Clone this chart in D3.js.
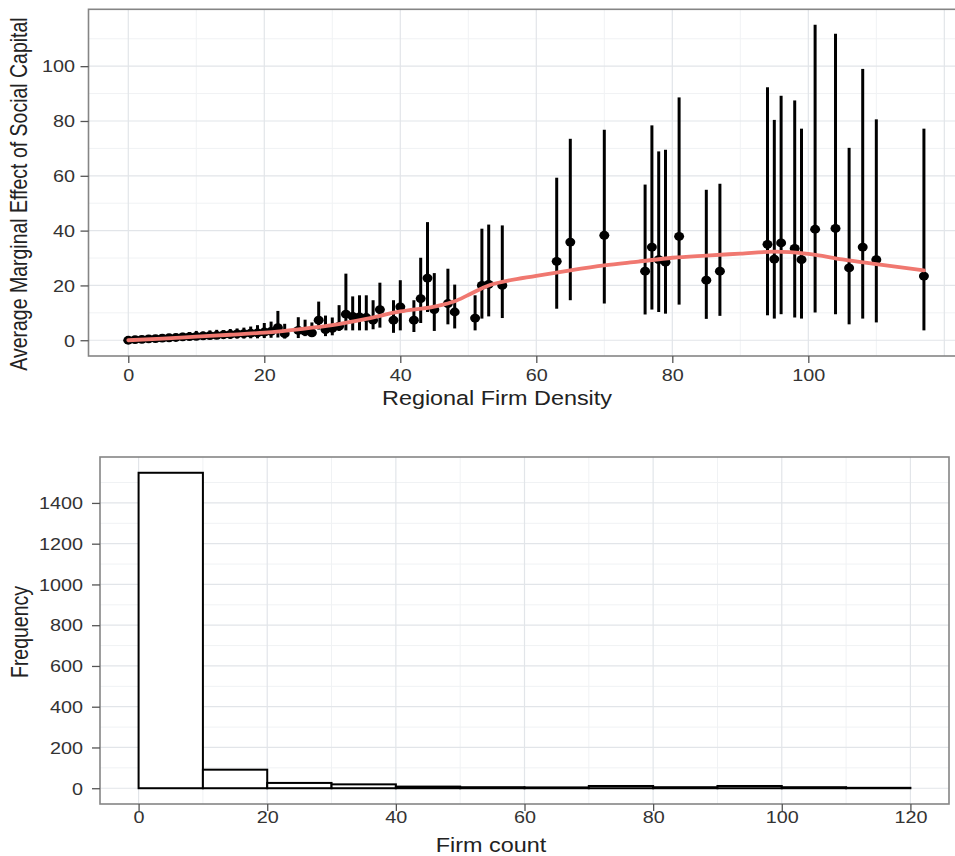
<!DOCTYPE html>
<html>
<head>
<meta charset="utf-8">
<script src="https://cdn.jsdelivr.net/npm/d3@7"></script>
<style>
  html, body { margin: 0; padding: 0; background: #fff; }
  svg { display: block; font-family: "Liberation Sans", Arial, sans-serif; }
  .grid-major { stroke: #e2e5e9; stroke-width: 1.2; }
  .grid-minor { stroke: #f0f2f4; stroke-width: 1; }
  .frame { fill: none; stroke: #858585; stroke-width: 1.6; }
  .axis line { stroke: #555; stroke-width: 1.3; }
  .axis text { fill: #333; font-size: 16.5px; }
  .title { fill: #222; font-size: 19.5px; }
</style>
</head>
<body>
<svg id="chart" width="955" height="856"></svg>
<script>
// top panel: average marginal effect by regional firm density
const density = [0, 1, 2, 3, 4, 5, 6, 7, 8, 9, 10, 11, 12, 13, 14, 15, 16, 17, 18,
  19, 20, 21, 22, 23, 25, 26, 27, 28, 29, 30, 31, 32, 33, 34, 35, 36, 37, 39, 40,
  42, 43, 44, 45, 47, 48, 51, 52, 53, 55, 63, 65, 70, 76, 77, 78, 79, 81, 85, 87,
  94, 95, 96, 98, 99, 101, 104, 106, 108, 110, 117];
const effect = [0, 0.2, 0.3, 0.5, 0.6, 0.8, 0.9, 1.0, 1.2, 1.3, 1.4, 1.6, 1.7, 1.8, 2.0, 2.1, 2.3, 2.4, 2.6,
  2.7, 3.0, 3.2, 4.6, 2.4, 3.6, 3.2, 2.7, 7.3, 3.9, 4.3, 5.1, 9.5, 8.7, 8.5, 8.3, 7.3, 11.2, 7.3, 12.2,
  7.3, 15.2, 22.7, 11.2, 13.4, 10.3, 8.1, 20.0, 20.4, 20.0, 28.8, 35.8, 38.3, 25.2, 34.0, 29.4, 28.5, 37.9, 21.9, 25.2,
  35.0, 29.6, 35.5, 33.5, 29.4, 40.5, 40.8, 26.4, 34.0, 29.4, 23.4];
const effectLo = [0, 0, 0, 0.1, 0.1, 0.2, 0.2, 0.3, 0.3, 0.3, 0.4, 0.4, 0.5, 0.5, 0.5, 0.6, 0.6, 0.6, 0.7,
  0.7, 0.8, 0.9, 1.0, 0.6, 0.8, 1.5, 1.2, 3.9, 1.5, 1.8, 3.4, 3.6, 3.6, 3.6, 3.6, 4.0, 4.6, 2.7, 3.6,
  3.0, 6.3, 10.3, 3.4, 5.8, 4.3, 3.6, 7.9, 8.7, 8.1, 11.5, 14.6, 13.4, 9.4, 11.2, 10.3, 9.7, 13.0, 7.8, 8.9,
  9.1, 7.9, 9.5, 8.3, 7.9, 10.1, 9.5, 5.8, 7.9, 6.5, 3.6];
const effectHi = [0.1, 0.5, 0.8, 1.1, 1.4, 1.7, 2.0, 2.3, 2.7, 3.0, 3.4, 3.2, 3.6, 3.8, 3.7, 4.1, 4.3, 4.6, 5.0,
  5.5, 6.3, 6.8, 10.7, 6.0, 8.4, 7.5, 6.5, 14.1, 9.0, 8.3, 12.8, 24.3, 16.0, 16.4, 16.4, 14.6, 21.0, 14.6, 21.9,
  14.6, 30.1, 43.1, 24.5, 26.1, 20.3, 16.4, 40.7, 42.2, 41.9, 59.3, 73.5, 76.8, 56.8, 78.4, 68.9, 69.5, 88.6, 54.9, 57.1,
  92.3, 80.4, 89.2, 87.5, 77.2, 115.1, 111.8, 70.2, 99.0, 80.6, 77.2];

// smoothed fit (red line)
const smoothX = [0, 5, 10, 15, 20, 25, 30, 35, 40, 45, 48, 50, 53, 55, 60, 65, 70, 75, 80, 85, 90, 95, 100, 105, 110, 117];
const smoothY = [0, 0.6, 1.3, 2.0, 2.8, 4.0, 5.5, 7.8, 10.5, 12.3, 14.2, 16.5, 20.0, 21.3, 23.5, 25.5, 27.3, 28.7, 30.1, 30.9, 31.6, 32.3, 31.5, 29.5, 27.8, 25.5];

// bottom panel: histogram of firm count
const binStart = [0, 10, 20, 30, 40, 50, 60, 70, 80, 90, 100, 110];
const binCount = [1548, 91, 26, 19, 8, 5, 4, 11, 5, 11, 5, 2];

const topXTicks = [0, 20, 40, 60, 80, 100];
const topYTicks = [0, 20, 40, 60, 80, 100];
const botXTicks = [0, 20, 40, 60, 80, 100, 120];
const botYTicks = [0, 200, 400, 600, 800, 1000, 1200, 1400];

const svg = d3.select('#chart');
const SX = 1.2; // the figure is a bit wider than tall, text included

function grid(g, x, y, xMajor, xMinor, yMajor, yMinor, x0, x1, y0, y1) {
  g.selectAll('.vmin').data(xMinor).join('line').attr('class', 'grid-minor')
    .attr('x1', d => x(d)).attr('x2', d => x(d)).attr('y1', y0).attr('y2', y1);
  g.selectAll('.hmin').data(yMinor).join('line').attr('class', 'grid-minor')
    .attr('y1', d => y(d)).attr('y2', d => y(d)).attr('x1', x0).attr('x2', x1);
  g.selectAll('.vmaj').data(xMajor).join('line').attr('class', 'grid-major')
    .attr('x1', d => x(d)).attr('x2', d => x(d)).attr('y1', y0).attr('y2', y1);
  g.selectAll('.hmaj').data(yMajor).join('line').attr('class', 'grid-major')
    .attr('y1', d => y(d)).attr('y2', d => y(d)).attr('x1', x0).attr('x2', x1);
}

function axes(x, y, xTicks, yTicks, bottom, left, xLabelY, yLabelGap) {
  const gx = svg.append('g').attr('class', 'axis').attr('transform', `translate(0,${bottom})`)
    .call(d3.axisBottom(x).tickValues(xTicks).tickFormat(d3.format('d')).tickSize(7).tickSizeOuter(0));
  gx.select('.domain').remove();
  gx.selectAll('text').attr('y', xLabelY).attr('dy', 0).attr('transform', `scale(${SX},1)`);
  const gy = svg.append('g').attr('class', 'axis').attr('transform', `translate(${left},0)`)
    .call(d3.axisLeft(y).tickValues(yTicks).tickFormat(d3.format('d')).tickSize(8).tickSizeOuter(0));
  gy.select('.domain').remove();
  gy.selectAll('text').attr('x', -yLabelGap / SX).attr('dy', '0.35em').attr('transform', `scale(${SX},1)`);
}

// ---- top panel
const t = { l: 88.5, r: 963.7, t: 9.3, b: 356 };
const xTop = d3.scaleLinear().domain([-5.85, 122.85]).range([t.l, t.r]);
const yTop = d3.scaleLinear().domain([-5.75, 120.75]).range([t.b, t.t]);

grid(svg.append('g'), xTop, yTop, [0, 20, 40, 60, 80, 100, 120], [10, 30, 50, 70, 90, 110],
  topYTicks, [10, 30, 50, 70, 90, 110], t.l, t.r, t.t, t.b);

const pts = density.map((d, i) => ({ x: d, y: effect[i], lo: effectLo[i], hi: effectHi[i] }));
svg.append('g').selectAll('line').data(pts).join('line')
  .attr('x1', d => xTop(d.x)).attr('x2', d => xTop(d.x))
  .attr('y1', d => yTop(d.lo)).attr('y2', d => yTop(d.hi))
  .attr('stroke', '#000').attr('stroke-width', 3);
svg.append('g').selectAll('ellipse').data(pts).join('ellipse')
  .attr('cx', d => xTop(d.x)).attr('cy', d => yTop(d.y))
  .attr('rx', 5).attr('ry', 4.4).attr('fill', '#000');

const fit = d3.line().x((d, i) => xTop(smoothX[i])).y(d => yTop(d)).curve(d3.curveMonotoneX);
svg.append('path').datum(smoothY).attr('d', fit)
  .attr('fill', 'none').attr('stroke', '#f07870').attr('stroke-width', 3.8).attr('stroke-linecap', 'round');

svg.append('rect').attr('class', 'frame').attr('x', t.l).attr('y', t.t)
  .attr('width', t.r - t.l).attr('height', t.b - t.t);
axes(xTop, yTop, topXTicks, topYTicks, t.b, t.l, 25, 13.5);

svg.append('text').attr('class', 'title').attr('text-anchor', 'middle')
  .attr('transform', `translate(497,405) scale(${SX},1)`).text('Regional Firm Density');
svg.append('text').attr('class', 'title').attr('text-anchor', 'middle')
  .attr('font-size', '20px')
  .attr('transform', `translate(27,194) rotate(-90) scale(1,${SX})`).text('Average Marginal Effect of Social Capital');

// ---- bottom panel
const b = { l: 100, r: 949, t: 457, b: 804 };
const xBot = d3.scaleLinear().domain([-6, 126]).range([b.l, b.r]);
const yBot = d3.scaleLinear().domain([-77.4, 1625.4]).range([b.b, b.t]);

grid(svg.append('g'), xBot, yBot, botXTicks, [10, 30, 50, 70, 90, 110],
  botYTicks, [100, 300, 500, 700, 900, 1100, 1300, 1500], b.l, b.r, b.t, b.b);

const bins = binStart.map((s, i) => ({ x0: s, x1: s + 10, n: binCount[i] }));
svg.append('g').selectAll('rect').data(bins).join('rect')
  .attr('x', d => xBot(d.x0)).attr('width', d => xBot(d.x1) - xBot(d.x0))
  .attr('y', d => yBot(d.n)).attr('height', d => yBot(0) - yBot(d.n))
  .attr('fill', '#fff').attr('stroke', '#000').attr('stroke-width', 2);

svg.append('rect').attr('class', 'frame').attr('x', b.l).attr('y', b.t)
  .attr('width', b.r - b.l).attr('height', b.b - b.t);
axes(xBot, yBot, botXTicks, botYTicks, b.b, b.l, 19, 17);

svg.append('text').attr('class', 'title').attr('text-anchor', 'middle')
  .attr('transform', `translate(491,852) scale(${SX},1)`).text('Firm count');
svg.append('text').attr('class', 'title').attr('text-anchor', 'middle')
  .attr('transform', `translate(27.5,632) rotate(-90) scale(1,${SX})`).text('Frequency');
</script>
</body>
</html>
